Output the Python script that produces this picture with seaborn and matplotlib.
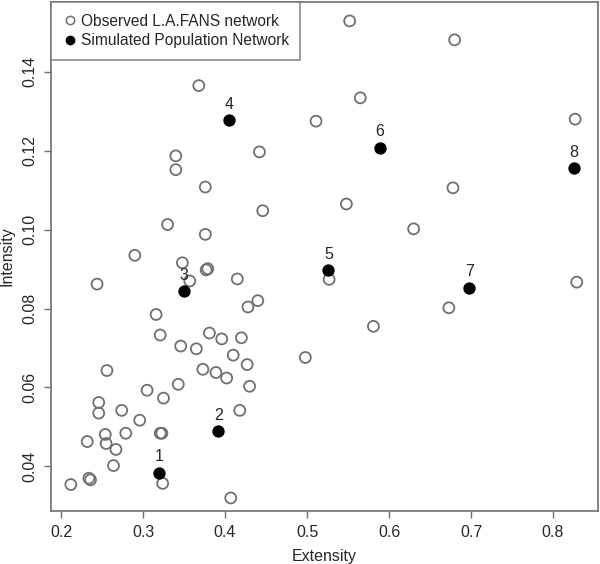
import pandas as pd
import matplotlib
matplotlib.use("Agg")
import matplotlib.pyplot as plt
import seaborn as sns
from matplotlib.lines import Line2D

# Observed L.A.FANS network values
obs_extensity = [0.368, 0.442, 0.340, 0.340, 0.376, 0.446, 0.330, 0.376, 0.290, 0.348,
                 0.552, 0.680, 0.565, 0.511, 0.827, 0.678, 0.548, 0.630, 0.377, 0.379,
                 0.415, 0.244, 0.357, 0.440, 0.428, 0.316, 0.321, 0.381, 0.396, 0.420,
                 0.346, 0.365, 0.410, 0.427, 0.256, 0.373, 0.389, 0.402, 0.343, 0.430,
                 0.305, 0.325, 0.246, 0.246, 0.274, 0.418, 0.296, 0.321, 0.323, 0.254,
                 0.279, 0.232, 0.255, 0.267, 0.264, 0.234, 0.236, 0.212, 0.324, 0.407,
                 0.527, 0.829, 0.673, 0.581, 0.498]
obs_intensity = [0.1365, 0.1197, 0.1187, 0.1152, 0.1108, 0.1048, 0.1013, 0.0988, 0.0935, 0.0916,
                 0.1529, 0.1481, 0.1334, 0.1275, 0.1280, 0.1106, 0.1065, 0.1002, 0.0898, 0.0901,
                 0.0875, 0.0862, 0.0870, 0.0820, 0.0804, 0.0785, 0.0733, 0.0738, 0.0723, 0.0726,
                 0.0705, 0.0698, 0.0682, 0.0658, 0.0643, 0.0646, 0.0638, 0.0624, 0.0608, 0.0603,
                 0.0593, 0.0573, 0.0562, 0.0535, 0.0542, 0.0542, 0.0517, 0.0484, 0.0484, 0.0481,
                 0.0484, 0.0463, 0.0458, 0.0443, 0.0402, 0.0370, 0.0366, 0.0354, 0.0357, 0.0320,
                 0.0874, 0.0867, 0.0802, 0.0755, 0.0676]

# Simulated population networks
sim_labels = ["1", "2", "3", "4", "5", "6", "7", "8"]
sim_extensity = [0.320, 0.392, 0.350, 0.405, 0.526, 0.589, 0.698, 0.825]
sim_intensity = [0.0384, 0.0490, 0.0844, 0.1278, 0.0897, 0.1208, 0.0853, 0.1156]

obs = pd.DataFrame({"Extensity": obs_extensity, "Intensity": obs_intensity})
sim = pd.DataFrame({"Extensity": sim_extensity, "Intensity": sim_intensity, "label": sim_labels})

sns.set_theme(style="white")
plt.rcParams["font.family"] = ["Liberation Sans", "DejaVu Sans"]

fig = plt.figure(figsize=(6, 5.64), dpi=100)
ax = fig.add_axes([0.085, 0.094, 0.9117, 0.9025])

sns.scatterplot(data=obs, x="Extensity", y="Intensity", ax=ax, s=62,
                facecolor="none", edgecolor="#707070", linewidth=1.3)
sns.scatterplot(data=sim, x="Extensity", y="Intensity", ax=ax, s=62,
                color="black", edgecolor="black", linewidth=1.0)

for _, r in sim.iterrows():
    ax.annotate(r["label"], (r["Extensity"], r["Intensity"]), xytext=(0, 6),
                textcoords="offset points", ha="center", va="bottom", fontsize=11.5)

ax.set_xlim(0.1878, 0.8549)
ax.set_ylim(0.0287, 0.1577)
ax.set_xticks([0.2, 0.3, 0.4, 0.5, 0.6, 0.7, 0.8])
ax.set_yticks([0.04, 0.06, 0.08, 0.10, 0.12, 0.14])
ax.set_xticklabels(["0.2", "0.3", "0.4", "0.5", "0.6", "0.7", "0.8"])
ax.set_yticklabels(["0.04", "0.06", "0.08", "0.10", "0.12", "0.14"], rotation=90, va="center")
ax.tick_params(axis="both", direction="out", length=5, width=1, color="#707070",
               labelsize=11.5, bottom=True, left=True, pad=5)
ax.set_xlabel("Extensity", fontsize=11.5)
ax.set_ylabel("Intensity", fontsize=11.5)
ax.xaxis.set_label_coords(0.5, -0.075)
ax.yaxis.set_label_coords(-0.066, 0.5)
for sp in ax.spines.values():
    sp.set_color("#707070")
    sp.set_linewidth(1.2)

handles = [
    Line2D([], [], marker="o", linestyle="none", markerfacecolor="none",
           markeredgecolor="#707070", markersize=6, markeredgewidth=1.1),
    Line2D([], [], marker="o", linestyle="none", markerfacecolor="black",
           markeredgecolor="black", markersize=6),
]
leg = ax.legend(handles, ["Observed L.A.FANS network", "Simulated Population Network"],
                loc="upper left", bbox_to_anchor=(0, 1), borderaxespad=0, fancybox=False,
                frameon=True, fontsize=11.2, handletextpad=0.15, handlelength=1.0,
                labelspacing=0.3, borderpad=0.75)
leg.get_frame().set_edgecolor("#707070")
leg.get_frame().set_linewidth(1.2)

fig.savefig("out.png", dpi=100)
